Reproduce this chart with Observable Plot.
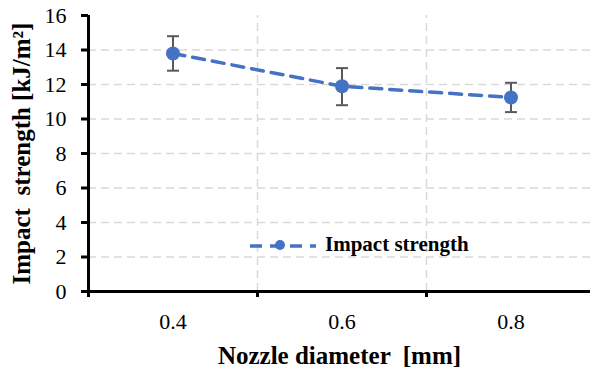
<!DOCTYPE html>
<html>
<head>
<meta charset="utf-8">
<script src="https://cdn.jsdelivr.net/npm/d3@7"></script>
<script src="https://cdn.jsdelivr.net/npm/@observablehq/plot@0.6"></script>
<style>
  html, body { margin: 0; padding: 0; background: #fff; }
  #wrap { position: relative; width: 590px; height: 371px; overflow: hidden; }
  #legend { position: absolute; left: 246px; top: 232px; display: flex; align-items: center;
    font-family: "Liberation Serif", "Times New Roman", serif; font-weight: bold; font-size: 21px; color: #000; }
</style>
</head>
<body>
<div id="wrap"></div>
<script>
const diameters = [0.4, 0.6, 0.8];
const strength = [13.8, 11.9, 11.25];
const errLow = [1.0, 1.1, 0.85];
const errHigh = [1.0, 1.05, 0.85];
const yTicks = [0, 2, 4, 6, 8, 10, 12, 14, 16];
const xTickLabels = [0.4, 0.6, 0.8];
const xBoundaries = [0.3, 0.5, 0.7];
const seriesName = "Impact strength";
const yTitle = "Impact  strength [kJ/m²]";
const xTitle = "Nozzle diameter  [mm]";

const data = diameters.map((d, i) => ({
  x: d, y: strength[i], lo: strength[i] - errLow[i], hi: strength[i] + errHigh[i]
}));

const capSymbol = { draw(ctx) { ctx.moveTo(-6, 0); ctx.lineTo(6, 0); } };
const serif = "'Liberation Serif', 'Times New Roman', serif";
const blue = "#4472C4";

const chart = Plot.plot({
  width: 590,
  height: 371,
  marginLeft: 88,
  marginRight: 0,
  marginTop: 15,
  marginBottom: 80,
  style: `font-family: ${serif}; background: #fff; overflow: visible;`,
  x: { domain: [0.3, 0.9], range: [88, 595] },
  y: { domain: [0, 16] },
  marks: [
    Plot.ruleY(yTicks.filter(t => t > 0 && t < 16), { stroke: "#d9d9d9", strokeWidth: 1.5, strokeDasharray: "8,5" }),
    Plot.ruleX(xBoundaries.filter(t => t > 0.3), { y1: 0, y2: 16, stroke: "#d9d9d9", strokeWidth: 1.5, strokeDasharray: "8,5" }),
    Plot.ruleX([0.3], { y1: 0, y2: 16, stroke: "#000", strokeWidth: 3 }),
    Plot.ruleY([0], { stroke: "#000", strokeWidth: 3 }),
    Plot.axisY({ ticks: yTicks, tickSize: 7, strokeWidth: 3, tickFormat: () => "", label: null, stroke: "#000" }),
    Plot.axisX({ ticks: xBoundaries, tickSize: 6, strokeWidth: 3, tickFormat: () => "", label: null, stroke: "#000" }),
    Plot.text(yTicks, { y: d => d, frameAnchor: "left", textAnchor: "end", lineAnchor: "middle", dx: -22, text: d => String(d), fontSize: 22, fontFamily: serif, fill: "#000" }),
    Plot.text(xTickLabels, { x: d => d, frameAnchor: "bottom", textAnchor: "middle", lineAnchor: "middle", dy: 30, text: d3.format(".1f"), fontSize: 22, fontFamily: serif, fill: "#000" }),
    Plot.ruleX(data, { x: "x", y1: "lo", y2: "hi", stroke: "#595959", strokeWidth: 2 }),
    Plot.dot(data, { x: "x", y: "lo", symbol: capSymbol, stroke: "#595959", strokeWidth: 2 }),
    Plot.dot(data, { x: "x", y: "hi", symbol: capSymbol, stroke: "#595959", strokeWidth: 2 }),
    Plot.line(data, { x: "x", y: "y", stroke: blue, strokeWidth: 3.5, strokeDasharray: "12,8" }),
    Plot.dot(data, { x: "x", y: "y", r: 7, fill: blue }),
    Plot.text([yTitle], { frameAnchor: "left", textAnchor: "middle", lineAnchor: "middle", dx: -67, dy: 0, rotate: -90, fontSize: 25, fontWeight: "bold", fontFamily: serif, fill: "#000" }),
    Plot.text([xTitle], { frameAnchor: "bottom", textAnchor: "middle", lineAnchor: "middle", dx: 0, dy: 64, fontSize: 25, fontWeight: "bold", fontFamily: serif, fill: "#000" })
  ]
});
document.getElementById("wrap").appendChild(chart);

const legend = document.createElement("div");
legend.id = "legend";
legend.innerHTML = `<svg width="72" height="20" style="margin-right:7px">
  <line x1="2" y1="11" x2="70" y2="11" stroke="${blue}" stroke-width="3.5" stroke-dasharray="12,8" stroke-dashoffset="-2"/>
  <circle cx="34" cy="10" r="5" fill="${blue}"/></svg><span>${seriesName}</span>`;
document.getElementById("wrap").appendChild(legend);
</script>
</body>
</html>
